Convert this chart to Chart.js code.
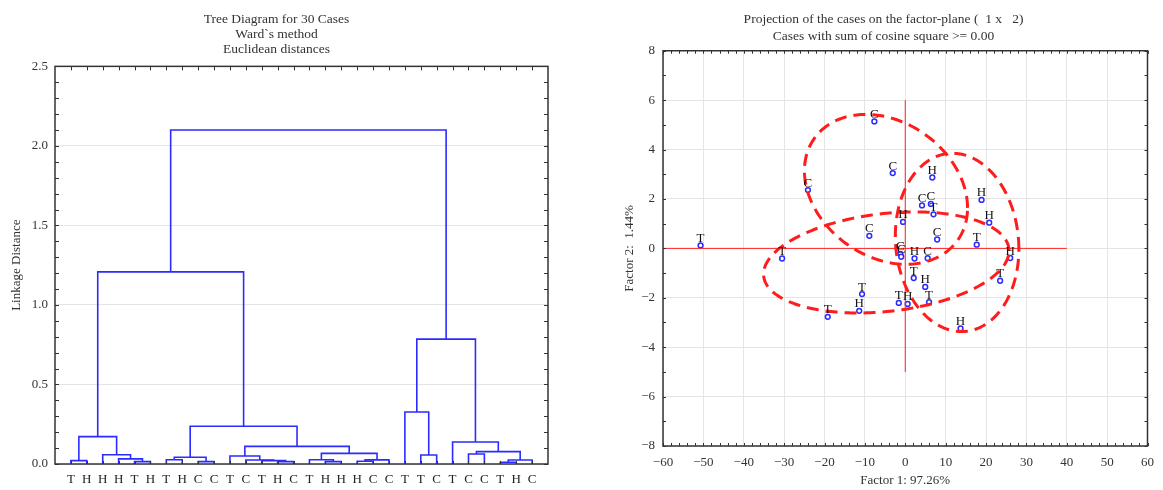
<!DOCTYPE html>
<html>
<head>
<meta charset="utf-8">
<script src="https://cdn.jsdelivr.net/npm/chart.js@4.4.1/dist/chart.umd.min.js"></script>
<style>
html, body { margin: 0; padding: 0; background: #fff; }
#wrap { position: relative; width: 1163px; height: 490px; }
#tree { position: absolute; left: 0; top: 0; }
#proj { position: absolute; left: 583px; top: 0; }
</style>
</head>
<body>
<div id="wrap">
  <canvas id="tree" width="580" height="490"></canvas>
  <canvas id="proj" width="580" height="490"></canvas>
</div>
<script>
// --- tree diagram data (leaf order as displayed, merges like a linkage table)
const leafLabels = ['T','H','H','H','T','H','T','H','C','C','T','C','T','H','C','T','H','H','H','C','C','T','T','C','T','C','C','T','H','C'];
const mergeLeft   = [4, 3, 2, 0, 33, 6, 8, 35, 13, 12, 11, 10, 16, 15, 18, 44, 43, 41, 37, 34, 22, 21, 25, 27, 53, 52, 24, 51, 49];
const mergeRight  = [5, 30, 31, 1, 32, 7, 9, 36, 14, 38, 39, 40, 17, 42, 19, 20, 45, 46, 47, 48, 23, 50, 26, 28, 29, 54, 55, 56, 57];
const mergeHeight = [0.015, 0.032, 0.058, 0.021, 0.172, 0.027, 0.015, 0.042, 0.015, 0.021, 0.025, 0.05, 0.015, 0.027, 0.017, 0.026, 0.067, 0.111, 0.237, 1.208, 0.057, 0.327, 0.063, 0.011, 0.025, 0.078, 0.138, 0.785, 2.1];
const treeTicks = [0, 0.5, 1.0, 1.5, 2.0, 2.5];

// --- factor plane data
const pointLabels = ['T','T','C','C','C','H','C','C','T','H','C','C','C','H','C','T','H','T','T','H','T','H','T','H','H','C','T','H','T','H'];
const factor1 = [-50.7, -30.5, -24.1, -7.65, -3.1, 6.7, 4.15, 6.35, 7.0, -0.55, -8.9, -1.2, -1.0, 2.3, 5.55, 2.1, 4.95, 5.9, -1.6, 0.6, -10.7, -11.4, -19.2, 18.9, 20.8, 7.9, 17.7, 26.0, 23.5, 13.7];
const factor2 = [0.12, -0.41, 2.36, 5.14, 3.05, 2.87, 1.74, 1.8, 1.38, 1.07, 0.51, -0.22, -0.34, -0.41, -0.4, -1.2, -1.56, -2.18, -2.21, -2.25, -1.85, -2.53, -2.77, 1.96, 1.04, 0.36, 0.15, -0.39, -1.31, -3.24];
const crossX = [-60, 40];
const crossY = [-5, 6];
// ellipses: centre and two conjugate half-diameters, in factor units
const ellipseCx = [-4.77, -4.69, 12.84];
const ellipseCy = [2.39, -0.57, 0.24];
const ellipseUx = [20.2, 30.4, 15.3];
const ellipseUy = [-0.75, 0.47, -0.26];
const ellipseVy = [2.94, 1.99, 3.6];

const serif = 'Liberation Serif';

// build the dendrogram brackets
const pos = leafLabels.map((l, i) => i + 1);
const hgt = leafLabels.map(() => 0);
const treeSets = [];
mergeLeft.forEach((a, k) => {
  const b = mergeRight[k], h = mergeHeight[k];
  treeSets.push({
    data: [{x: pos[a], y: hgt[a]}, {x: pos[a], y: h}, {x: pos[b], y: h}, {x: pos[b], y: hgt[b]}],
    showLine: true, borderColor: '#2b2bff', borderWidth: 1.6, pointRadius: 0
  });
  pos.push((pos[a] + pos[b]) / 2);
  hgt.push(h);
});

function tick(ctx, x1, y1, x2, y2) {
  ctx.beginPath(); ctx.moveTo(x1, y1); ctx.lineTo(x2, y2); ctx.stroke();
}

const treeFrame = {
  id: 'treeFrame',
  afterDraw(chart) {
    const {ctx, chartArea: a, scales: {x, y}} = chart;
    ctx.save();
    ctx.strokeStyle = '#333';
    ctx.lineWidth = 1;
    for (let v = 0; v <= 25; v++) {
      const py = Math.round(y.getPixelForValue(v / 10)) + 0.5;
      tick(ctx, a.left, py, a.left + 4, py);
      tick(ctx, a.right - 4, py, a.right, py);
    }
    leafLabels.forEach((l, i) => {
      const px = Math.round(x.getPixelForValue(i + 1)) + 0.5;
      tick(ctx, px, a.top, px, a.top + 4);
      tick(ctx, px, a.bottom - 3, px, a.bottom);
    });
    ctx.lineWidth = 1.5;
    ctx.strokeRect(a.left, a.top, a.right - a.left, a.bottom - a.top);
    ctx.restore();
  }
};

new Chart(document.getElementById('tree'), {
  type: 'scatter',
  data: { datasets: treeSets },
  options: {
    responsive: false,
    animation: false,
    layout: { padding: { left: 5, right: 32 } },
    plugins: {
      legend: { display: false },
      tooltip: { enabled: false },
      title: {
        display: true,
        text: ['Tree Diagram for 30 Cases', 'Ward`s method', 'Euclidean distances'],
        color: '#333',
        font: { family: serif, size: 13.5, weight: 'normal', lineHeight: 1.12 },
        padding: { top: 12, bottom: 9 }
      }
    },
    scales: {
      x: {
        type: 'linear', min: 0, max: 31,
        afterBuildTicks: s => { s.ticks = leafLabels.map((l, i) => ({ value: i + 1 })); },
        afterFit: s => { s.height = 26; },
        ticks: { autoSkip: false, maxRotation: 0, padding: 0, color: '#222',
                 font: { family: serif, size: 13 }, callback: v => leafLabels[v - 1] },
        grid: { display: false },
        border: { display: false }
      },
      y: {
        min: 0, max: 2.5,
        afterBuildTicks: s => { s.ticks = treeTicks.map(v => ({ value: v })); },
        afterFit: s => { s.width = 50; },
        ticks: { padding: 7, color: '#333', font: { family: serif, size: 13 }, callback: v => v.toFixed(1) },
        grid: { color: '#e4e4e4', drawTicks: false },
        border: { display: false },
        title: { display: true, text: 'Linkage Distance', color: '#333', font: { family: serif, size: 13 } }
      }
    }
  },
  plugins: [treeFrame]
});

// --- factor plane
const projDecor = {
  id: 'projDecor',
  afterDatasetsDraw(chart) {
    const {ctx, chartArea: a, scales: {x, y}} = chart;
    ctx.save();
    ctx.beginPath();
    ctx.rect(a.left, a.top, a.right - a.left, a.bottom - a.top);
    ctx.clip();
    ctx.strokeStyle = '#ff1c1c';
    ctx.lineWidth = 3;
    ctx.setLineDash([12, 7]);
    ellipseCx.forEach((cx, k) => {
      const cpx = x.getPixelForValue(cx), cpy = y.getPixelForValue(ellipseCy[k]);
      const ux = x.getPixelForValue(cx + ellipseUx[k]) - cpx;
      const uy = y.getPixelForValue(ellipseCy[k] + ellipseUy[k]) - cpy;
      const vy = y.getPixelForValue(ellipseCy[k] + ellipseVy[k]) - cpy;
      ctx.beginPath();
      for (let i = 0; i <= 240; i++) {
        const t = i / 240 * Math.PI * 2;
        const px = cpx + ux * Math.cos(t);
        const py = cpy + uy * Math.cos(t) + vy * Math.sin(t);
        if (i === 0) ctx.moveTo(px, py); else ctx.lineTo(px, py);
      }
      ctx.stroke();
    });
    ctx.restore();

    // case labels
    const meta = chart.getDatasetMeta(2);
    ctx.save();
    ctx.font = '13px ' + serif;
    ctx.fillStyle = '#111';
    ctx.textAlign = 'center';
    ctx.textBaseline = 'alphabetic';
    meta.data.forEach((el, i) => ctx.fillText(pointLabels[i], el.x, el.y - 3.5));
    ctx.restore();
  },
  afterDraw(chart) {
    const {ctx, chartArea: a, scales: {x, y}} = chart;
    ctx.save();
    ctx.strokeStyle = '#333';
    ctx.lineWidth = 1;
    for (let v = -60; v <= 60; v += 2) {
      const px = Math.round(x.getPixelForValue(v)) + 0.5;
      tick(ctx, px, a.top, px, a.top + 3);
      tick(ctx, px, a.bottom - 3, px, a.bottom);
    }
    for (let v = -8; v <= 8; v++) {
      const py = Math.round(y.getPixelForValue(v)) + 0.5;
      tick(ctx, a.left, py, a.left + 3, py);
      tick(ctx, a.right - 3, py, a.right, py);
    }
    ctx.lineWidth = 1.5;
    ctx.strokeRect(a.left, a.top, a.right - a.left, a.bottom - a.top);
    ctx.restore();
  }
};

const minus = v => (v < 0 ? '\u2212' + (-v) : String(v));

new Chart(document.getElementById('proj'), {
  type: 'scatter',
  data: {
    datasets: [
      { data: crossX.map(v => ({ x: v, y: 0 })), showLine: true, borderColor: '#ff2020', borderWidth: 1, pointRadius: 0 },
      { data: crossY.map(v => ({ x: 0, y: v })), showLine: true, borderColor: '#ff2020', borderWidth: 1, pointRadius: 0 },
      { data: factor1.map((v, i) => ({ x: v, y: factor2[i] })), showLine: false,
        pointRadius: 2.4, pointBorderWidth: 1.5, pointBorderColor: '#2b2bff', pointBackgroundColor: '#fff' }
    ]
  },
  options: {
    responsive: false,
    animation: false,
    layout: { padding: { left: 35, right: 14 } },
    plugins: {
      legend: { display: false },
      tooltip: { enabled: false },
      title: {
        display: true,
        text: ['Projection of the cases on the factor-plane (  1 x   2)', 'Cases with sum of cosine square >= 0.00'],
        color: '#333',
        font: { family: serif, size: 13.5, weight: 'normal', lineHeight: 1.25 },
        padding: { top: 11, bottom: 6 }
      }
    },
    scales: {
      x: {
        min: -60, max: 60,
        afterFit: s => { s.height = 44; },
        ticks: { stepSize: 10, padding: 9, color: '#333', font: { family: serif, size: 13 }, callback: minus },
        grid: { color: '#e4e4e4', drawTicks: false },
        border: { display: false },
        title: { display: true, text: 'Factor 1: 97.26%', color: '#333', font: { family: serif, size: 13 }, padding: { top: 2, bottom: 2 } }
      },
      y: {
        min: -8, max: 8,
        afterFit: s => { s.width = 45; },
        ticks: { stepSize: 2, padding: 8, color: '#333', font: { family: serif, size: 13 }, callback: minus },
        grid: { color: '#e4e4e4', drawTicks: false },
        border: { display: false },
        title: { display: true, text: 'Factor 2:  1.44%', color: '#333', font: { family: serif, size: 13 } }
      }
    }
  },
  plugins: [projDecor]
});
</script>
</body>
</html>
